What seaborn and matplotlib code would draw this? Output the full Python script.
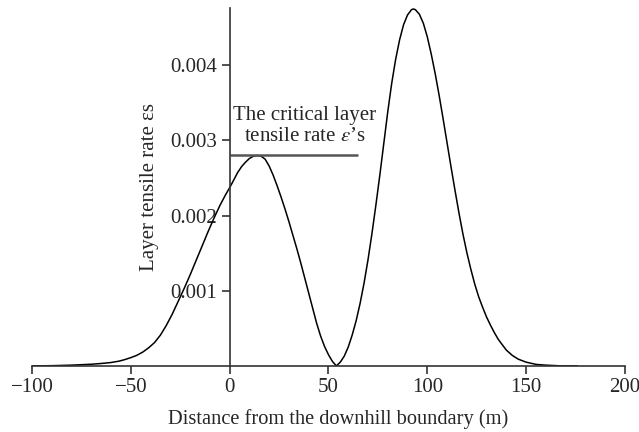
import numpy as np
import pandas as pd
import matplotlib
matplotlib.use("Agg")
import matplotlib.pyplot as plt
import seaborn as sns

# Data
distance = [-100, -90, -80, -70, -65, -60, -56, -53, -50, -47, -44, -41, -38, -35, -32, -29, -26,
            -23, -20, -17, -14, -11, -8, -5, -2, 0, 2, 4, 6, 8, 10, 12, 14, 16, 18, 20, 22,
            24, 26, 28, 30, 32, 34, 36, 38, 40, 42, 44, 46, 48, 50, 52, 54,
            56, 58, 60, 62, 64, 66, 68, 70, 72, 74, 76, 78, 80, 82, 84, 86, 88, 90, 92, 93,
            94, 96, 98, 100, 102, 104, 106, 108, 110, 112, 114, 116, 118, 120, 122, 124,
            126, 128, 130, 132, 134, 136, 138, 140, 143, 146, 150, 155, 160, 168, 176]
tensile_rate = [0.0, 0.000003, 0.00001, 0.000022, 0.000032, 0.000045, 0.000063, 0.000084,
                0.00011, 0.00014, 0.000183, 0.00024, 0.00031, 0.00041, 0.00054, 0.00069,
                0.00086, 0.00103, 0.00121, 0.00140, 0.00159, 0.00178, 0.00196, 0.00213,
                0.00228, 0.00237, 0.00247, 0.00257, 0.00265, 0.00271, 0.00276, 0.00279,
                0.00280, 0.00279, 0.00275, 0.00266, 0.00254, 0.00240, 0.00225, 0.00209,
                0.00192, 0.00174, 0.00156, 0.00137, 0.00117, 0.00097, 0.00077, 0.00057,
                0.00040, 0.00026, 0.00015, 0.00006, 0.0,
                0.00005, 0.00013, 0.00025, 0.00041, 0.00060, 0.00083, 0.00110, 0.00141,
                0.00176, 0.00214, 0.00254, 0.00296, 0.00338, 0.00376, 0.00408, 0.00434,
                0.00454, 0.00467, 0.00474, 0.00475, 0.00474, 0.00468, 0.00456, 0.00438,
                0.00415, 0.00389, 0.00360, 0.00329, 0.00297, 0.00265, 0.00234, 0.00204,
                0.00176, 0.00151, 0.00129, 0.00109, 0.00092, 0.00078, 0.00065, 0.00054,
                0.00044, 0.00035, 0.00028, 0.00021, 0.00014, 0.00009, 0.00005, 0.00002,
                0.00001, 0.0, 0.0]

critical_x = [0, 65]
critical_rate = 0.0028

x_ticks = [-100, -50, 0, 50, 100, 150, 200]
y_ticks = [0.001, 0.002, 0.003, 0.004]
y_tick_labels = ["0.001", "0.002", "0.003", "0.004"]

sns.set_style("ticks")
plt.rcParams["font.family"] = ["Liberation Serif", "DejaVu Serif"]
plt.rcParams["mathtext.fontset"] = "stix"

fig = plt.figure(figsize=(6.39, 4.32), dpi=100)
ax = fig.add_axes([0.050, 0.153, 0.928, 0.828])

df = pd.DataFrame({"x": distance, "y": tensile_rate})
sns.lineplot(data=df, x="x", y="y", color="black", linewidth=1.1, ax=ax, sort=False)

ax.hlines(critical_rate, critical_x[0], critical_x[1], color="#555555", linewidth=1.8)
ax.text(38, 0.00293, "The critical layer\ntensile rate $\\mathit{\\varepsilon}$’s",
        ha="center", va="bottom", fontsize=15, linespacing=1.1)

ax.set_xlim(-100, 200)
ax.set_ylim(0, 0.00476)
ax.set_xticks(x_ticks)
ax.set_yticks(y_ticks)
ax.set_yticklabels(y_tick_labels)

ax.spines["left"].set_position(("data", 0))
ax.spines["bottom"].set_position(("data", 0))
ax.spines["top"].set_visible(False)
ax.spines["right"].set_visible(False)
for s in ["left", "bottom"]:
    ax.spines[s].set_color("#333333")
    ax.spines[s].set_linewidth(1.2)

ax.tick_params(axis="both", direction="out", length=6, width=1.2, color="#333333",
               labelsize=15, pad=3)

ax.set_xlabel("Distance from the downhill boundary (m)", fontsize=14.7)
ax.xaxis.set_label_coords(0.516, -0.122)
ax.set_ylabel("Layer tensile rate εs", fontsize=15, labelpad=8)

fig.savefig("out.png", dpi=100)
